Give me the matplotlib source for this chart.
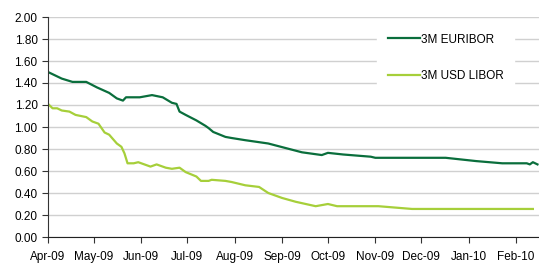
import numpy as np
import pandas as pd
import matplotlib
matplotlib.use("Agg")
import matplotlib.pyplot as plt
import matplotlib.dates as mdates

plt.rcParams['font.family'] = ['Liberation Sans', 'DejaVu Sans']

# 3M EURIBOR
eur_dates = ["2009-04-01", "2009-04-04", "2009-04-10", "2009-04-17", "2009-04-26",
             "2009-05-03", "2009-05-11", "2009-05-16", "2009-05-20", "2009-05-22",
             "2009-05-31", "2009-06-08", "2009-06-15", "2009-06-21", "2009-06-24",
             "2009-06-26", "2009-06-30", "2009-07-07", "2009-07-13", "2009-07-15",
             "2009-07-18", "2009-07-26", "2009-07-30", "2009-08-08", "2009-08-23",
             "2009-09-03", "2009-09-14", "2009-09-27", "2009-10-01", "2009-10-11",
             "2009-10-29", "2009-11-01", "2009-12-17", "2010-01-06", "2010-01-23",
             "2010-02-08", "2010-02-10", "2010-02-12", "2010-02-15"]
eur_vals = [1.50, 1.48, 1.44, 1.41, 1.41,
            1.36, 1.31, 1.26, 1.24, 1.27,
            1.27, 1.29, 1.27, 1.22, 1.21,
            1.14, 1.11, 1.06, 1.01, 0.99,
            0.955, 0.91, 0.90, 0.88, 0.85,
            0.81, 0.77, 0.745, 0.765, 0.75,
            0.73, 0.72, 0.72, 0.69, 0.67,
            0.67, 0.66, 0.68, 0.66]

# 3M USD LIBOR
usd_dates = ["2009-04-01", "2009-04-04", "2009-04-07", "2009-04-10", "2009-04-15",
             "2009-04-19", "2009-04-26", "2009-04-30", "2009-05-04", "2009-05-06",
             "2009-05-08", "2009-05-11", "2009-05-16", "2009-05-19", "2009-05-21",
             "2009-05-23", "2009-05-27", "2009-05-30", "2009-06-07", "2009-06-11",
             "2009-06-17", "2009-06-21", "2009-06-26", "2009-06-30", "2009-07-07",
             "2009-07-10", "2009-07-15", "2009-07-17", "2009-07-26", "2009-07-30",
             "2009-08-08", "2009-08-17", "2009-08-23", "2009-09-01", "2009-09-10",
             "2009-09-23", "2009-10-01", "2009-10-07", "2009-11-03", "2009-11-25",
             "2010-02-12"]
usd_vals = [1.21, 1.17, 1.17, 1.15, 1.14,
            1.11, 1.09, 1.05, 1.03, 0.99,
            0.95, 0.93, 0.85, 0.82, 0.76,
            0.67, 0.67, 0.68, 0.64, 0.66,
            0.63, 0.62, 0.63, 0.59, 0.55,
            0.51, 0.51, 0.52, 0.51, 0.50,
            0.47, 0.455, 0.40, 0.355, 0.32,
            0.28, 0.30, 0.28, 0.28, 0.255,
            0.255]

month_ticks = pd.date_range("2009-04-01", "2010-02-01", freq="MS")

fig = plt.figure(figsize=(5.39, 2.65), dpi=100)
ax = fig.add_axes([48 / 539, 28 / 265, 491 / 539, 220 / 265])

ax.plot(pd.to_datetime(eur_dates), eur_vals, color="#0a6e3c", lw=1.6, label="3M EURIBOR")
ax.plot(pd.to_datetime(usd_dates), usd_vals, color="#a6cf3a", lw=1.6, label="3M USD LIBOR")

ax.set_ylim(0, 2.0)
ax.set_yticks(np.arange(0, 2.01, 0.2))
ax.yaxis.set_major_formatter(plt.FormatStrFormatter("%.2f"))
ax.set_xlim(pd.Timestamp("2009-04-01"), pd.Timestamp("2010-02-16"))
ax.set_xticks(month_ticks)
ax.xaxis.set_major_formatter(mdates.DateFormatter("%b-%y"))

ax.grid(axis="y", color="#d0d0d0", lw=1)
ax.set_axisbelow(True)
for s in ["top", "right"]:
    ax.spines[s].set_visible(False)
ax.spines["left"].set_color("#333333")
ax.spines["bottom"].set_color("#222222")
ax.tick_params(axis="both", labelsize=8.5, color="#333333", length=4)
ax.tick_params(axis="x", pad=6)

leg = ax.legend(loc="upper right", bbox_to_anchor=(0.962, 1.0), frameon=True,
                fancybox=False, edgecolor="white", facecolor="white", framealpha=1,
                fontsize=8.5, handlelength=2.7, handletextpad=0.1, labelspacing=2.1,
                borderpad=0.9)

fig.savefig("out.png", dpi=100)
